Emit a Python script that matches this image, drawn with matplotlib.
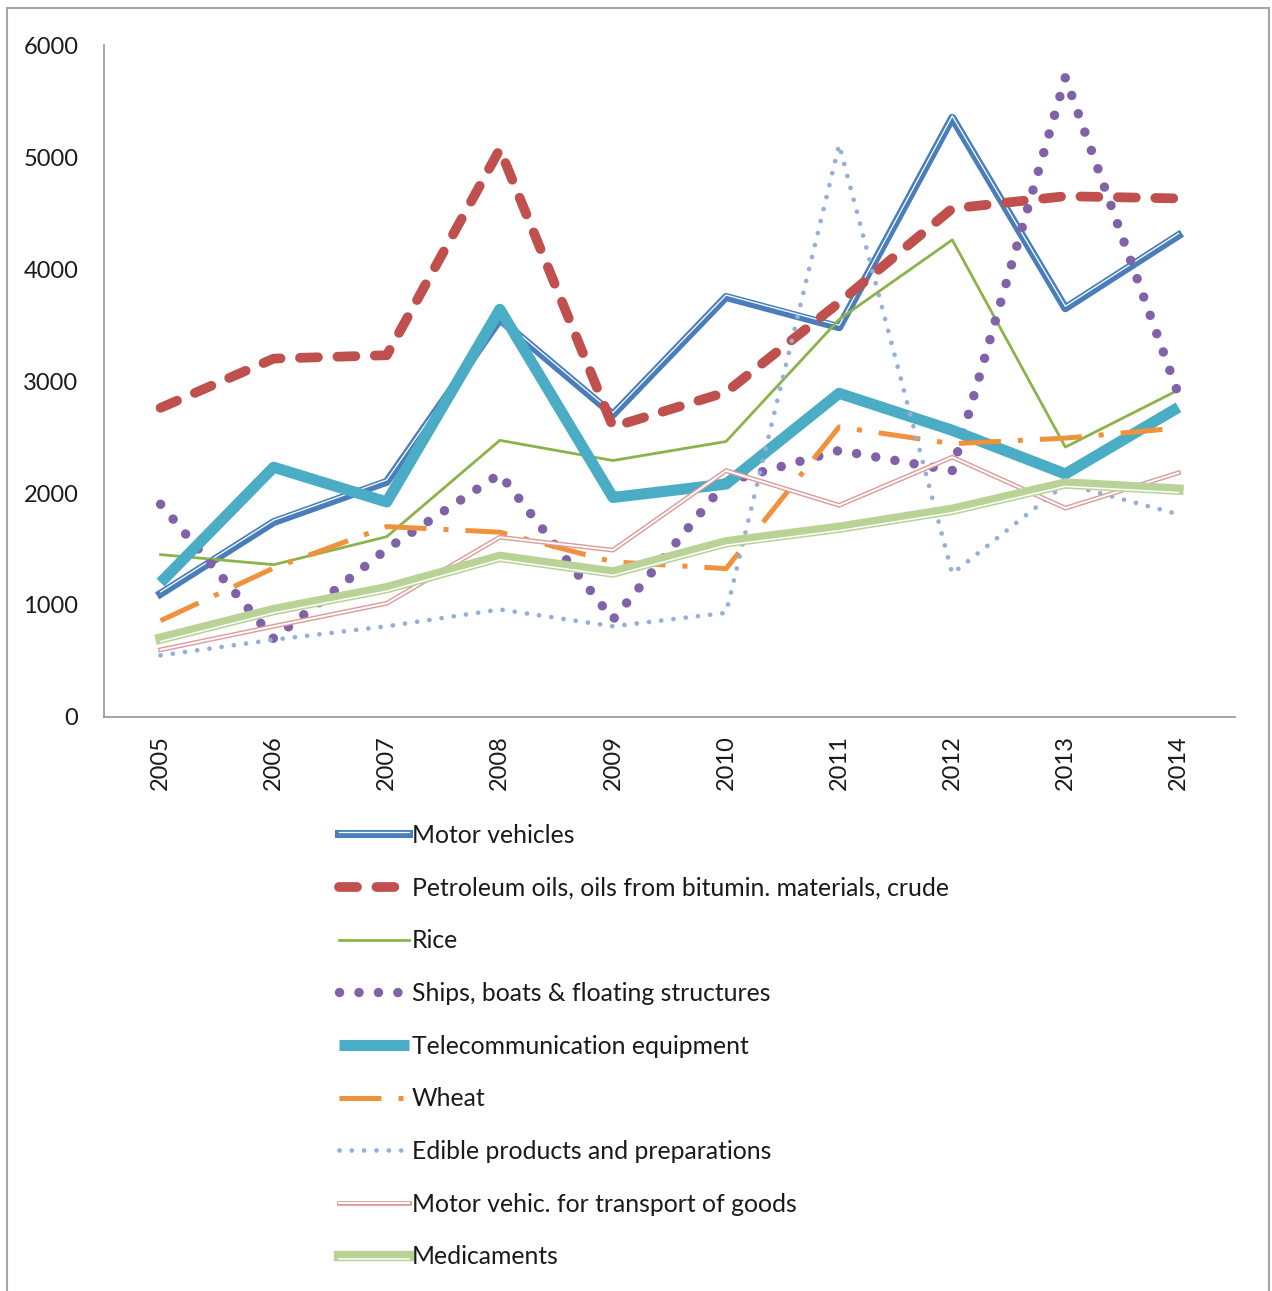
import matplotlib
matplotlib.use("Agg")
import matplotlib.pyplot as plt
import matplotlib.patheffects as pe
from matplotlib.patches import Rectangle

years = ["2005", "2006", "2007", "2008", "2009", "2010", "2011", "2012", "2013", "2014"]

motor_vehicles = [1100, 1740, 2100, 3550, 2700, 3750, 3480, 5350, 3650, 4300]
petroleum = [2760, 3200, 3230, 5070, 2590, 2900, 3700, 4540, 4650, 4630]
rice = [1450, 1360, 1610, 2470, 2290, 2460, 3550, 4260, 2410, 2920]
ships = [1900, 700, 1500, 2170, 870, 2100, 2380, 2200, 5710, 2880]
telecom = [1200, 2230, 1920, 3640, 1960, 2080, 2890, 2560, 2170, 2765]
wheat = [860, 1330, 1700, 1650, 1385, 1325, 2590, 2440, 2490, 2580]
edible = [550, 690, 810, 960, 810, 930, 5110, 1280, 2080, 1810]
motor_goods = [600, 810, 1015, 1605, 1490, 2200, 1890, 2320, 1865, 2180]
medicaments = [700, 955, 1150, 1430, 1290, 1560, 1690, 1850, 2085, 2030]

labels = [
    "Motor vehicles",
    "Petroleum oils, oils from bitumin. materials, crude",
    "Rice",
    "Ships, boats & floating structures",
    "Telecommunication equipment",
    "Wheat",
    "Edible products and preparations",
    "Motor vehic. for transport of goods",
    "Medicaments",
]

plt.rcParams['font.family'] = ['Lato', 'DejaVu Sans']

W, H = 1272, 1291
fig = plt.figure(figsize=(W / 100, H / 100), dpi=100)
ax = fig.add_axes([104 / W, 1 - 717 / H, (1235 - 104) / W, (717 - 45) / H])

x = list(range(len(years)))

c_blue = "#4a7ebb"
c_red = "#c0504d"
c_green = "#8cb34a"
c_purple = "#7f62a8"
c_teal = "#4aacc5"
c_orange = "#f0913c"
c_lblue = "#94afd8"
c_pink = "#dc9a9a"
c_lgreen = "#b9d396"

# Motor vehicles (compound line)
ax.plot(x, motor_vehicles, color=c_blue, lw=5.8, label=labels[0], solid_joinstyle='round',
        path_effects=[pe.Stroke(linewidth=5.8, foreground=c_blue, joinstyle='round'),
                      pe.Stroke(linewidth=0.9, foreground='white', offset=(0, 1.4), joinstyle='round')])
# Petroleum
ax.plot(x, petroleum, color=c_red, lw=7, label=labels[1], dashes=(1.85, 2.0),
        dash_capstyle='round', dash_joinstyle='round')
# Rice
ax.plot(x, rice, color=c_green, lw=2, label=labels[2], solid_joinstyle='round')
# Ships
ax.plot(x, ships, color=c_purple, lw=6.8, label=labels[3], dashes=(0.01, 2.05),
        dash_capstyle='round')
# Telecom
ax.plot(x, telecom, color=c_teal, lw=8, label=labels[4], solid_joinstyle='round',
        solid_capstyle='butt')
# Wheat
ax.plot(x, wheat, color=c_orange, lw=3.6, label=labels[5], dashes=(8.4, 3.4, 1, 3.4),
        dash_capstyle='butt')
# Edible
ax.plot(x, edible, color=c_lblue, lw=3.4, label=labels[6], dashes=(0.01, 2.6),
        dash_capstyle='round')
# Motor vehicles for goods (double line)
ax.plot(x, motor_goods, color=c_pink, lw=3.4, label=labels[7], solid_joinstyle='round',
        path_effects=[pe.Stroke(linewidth=3.4, foreground=c_pink, joinstyle='round'),
                      pe.Stroke(linewidth=1.4, foreground='white', joinstyle='round')])
# Medicaments (thick + thin)
ax.plot(x, medicaments, color=c_lgreen, lw=7.5, label=labels[8], solid_joinstyle='round',
        path_effects=[pe.Stroke(linewidth=7.5, foreground=c_lgreen, joinstyle='round'),
                      pe.Stroke(linewidth=1.1, foreground='white', offset=(0, -2.1), joinstyle='round')])

ax.set_xlim(-0.5, len(years) - 0.5)
ax.set_ylim(0, 6000)
ax.set_yticks(range(0, 6001, 1000))
ax.set_xticks(x)
ax.set_xticklabels(years, rotation=90)
ax.tick_params(axis='y', length=0, pad=18.5, labelsize=17, labelcolor='#1a1a1a')
ax.tick_params(axis='x', length=0, pad=13, labelsize=17, labelcolor='#1a1a1a')
for s in ('top', 'right'):
    ax.spines[s].set_visible(False)
for s in ('left', 'bottom'):
    ax.spines[s].set_color('#8c8c8c')
    ax.spines[s].set_linewidth(1.1)

leg = ax.legend(loc='upper left', bbox_to_anchor=(339 / W, 1 - 824 / H),
                bbox_transform=fig.transFigure, frameon=False, fontsize=17.8,
                handlelength=2.85, handletextpad=0.1, labelspacing=1.2,
                borderaxespad=0, borderpad=0)
for t in leg.get_texts():
    t.set_color('#1a1a1a')

fig.add_artist(Rectangle((7 / W, -0.02), (1269 - 7) / W, 1.02 - 8 / H,
                         transform=fig.transFigure, fill=False,
                         edgecolor='#a6a6a6', lw=1.5))

fig.savefig("out.png", dpi=100)
